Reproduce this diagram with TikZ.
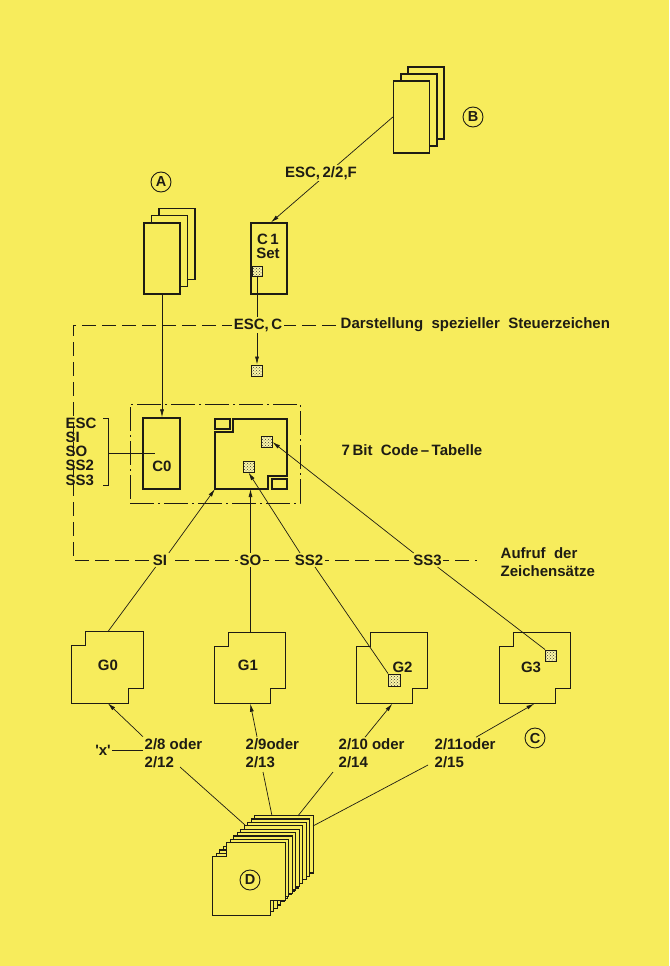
\documentclass[tikz,border=0pt]{standalone}
\usepackage{fontspec}
\setmainfont{Liberation Sans}
\usetikzlibrary{arrows.meta,patterns,calc}
\definecolor{bg}{RGB}{247,236,92}
\definecolor{ink}{RGB}{30,28,20}
\newcommand{\gshape}[1]{%
  \draw[box, fill=bg] ($(#1.north west)+(14,0)$) -- (#1.north east) -- ($(#1.south east)+(0,-15)$)
   -- ($(#1.south east)+(-15,-15)$) -- ($(#1.south east)+(-15,0)$) -- (#1.south west)
   -- ($(#1.north west)+(0,14)$) -- ($(#1.north west)+(14,14)$) -- cycle;}
\begin{document}
\begin{tikzpicture}[x=1pt,y=-1pt,
  every node/.style={text=ink},
  txt/.style={font=\fontsize{15}{16}\selectfont\bfseries, inner sep=1.5pt},
  two/.style={txt, align=left, font=\fontsize{15}{18}\selectfont\bfseries},
  lbl/.style={txt, fill=bg},
  page/.style={draw=ink, line width=1.3pt, fill=bg, inner sep=0pt},
  box/.style={draw=ink, line width=1.3pt},
  ghost/.style={inner sep=0pt, minimum size=71pt},
  hat/.style={draw=ink, line width=0.9pt, preaction={fill=white!45!bg}, pattern=crosshatch dots, pattern color=ink!85, minimum size=11pt, inner sep=0pt},
  conn/.style={draw=ink, line width=0.7pt},
  arr/.style={conn, -{Latex[length=8pt,width=4pt]}},
  dsh/.style={draw=ink, line width=1pt, dash pattern=on 14pt off 6pt},
  dashdot/.style={draw=ink, line width=1pt, dash pattern=on 24pt off 4pt on 2pt off 4pt},
  lett/.style={circle, draw=ink, line width=0.9pt, minimum size=20pt, inner sep=0pt, font=\fontsize{14.5}{16}\selectfont\bfseries}
]
\fill[bg] (0,0) rectangle (669,966);
\useasboundingbox (0,0) rectangle (669,966);

% stack B
\node[page, minimum width=36pt, minimum height=72pt] (B3) at (426,103) {};
\node[page, minimum width=36pt, minimum height=72pt] (B2) at (419,110) {};
\node[page, minimum width=36pt, minimum height=72pt] (B1) at (411.5,117) {};
\node[lett] (Bl) at (473,117) {B};

% stack A
\node[page, minimum width=36pt, minimum height=71pt] (A3) at (177,244) {};
\node[page, minimum width=36pt, minimum height=71pt] (A2) at (169.5,251) {};
\node[page, minimum width=36pt, minimum height=71pt] (A1) at (162,258.5) {};
\node[lett] (Al) at (161,182) {A};

% C1 set
\node[page, minimum width=36pt, minimum height=71pt] (C1) at (269,258.5) {};
\node[txt, align=center, font=\fontsize{15}{14}\selectfont\bfseries] (c1t) at (268,246) {C\,1\\Set};
\node[hat, minimum size=10pt] (hC1) at (257,271) {};

% arrow B -> C1
\draw[arr] (B1.west) -- ($(C1.north)+(2,0)$);
\node[lbl] (escF) at (321,173) {ESC,\,2/2,F};

% dashed frame lines
\coordinate (dtr) at (336,325);
\coordinate (tl) at (73,325);
\coordinate (bl) at (73,560);
\coordinate (dend) at (477,560);
\draw[dsh] (dtr) -- (tl) -- (bl) -- (dend);

\node[lbl] (escC) at (258,325) {ESC,\,C};
\node[txt, anchor=west] (darst) at (339,325) {Darstellung\ \ spezieller\ \ Steuerzeichen};
\node[hat] (hE) at (257,370.5) {};
\draw[conn] (hC1.south) -- (hC1.south |- escC.north);
\draw[arr] (escC.south -| hE.north) -- (hE.north);

% code table frame
\node[dashdot, minimum width=170pt, minimum height=99pt, inner sep=0pt] (frame) at (215,453.5) {};
\node[page, minimum width=37pt, minimum height=71pt] (C0) at (161.5,453.5) {};
\node[txt] (c0t) at (162,466) {C0};
\draw[arr] (A1.south) -- (A1.south |- C0.north);

\draw[box, fill=bg] (233,419) -- (287,419) -- (287,476) -- (268,476) -- (268,489) -- (215,489) -- (215,432) -- (233,432) -- cycle;
\node[draw=ink, line width=1.1pt, minimum width=15pt, minimum height=10pt, inner sep=0pt] (tsq1) at (222.5,424) {};
\node[draw=ink, line width=1.1pt, minimum width=15pt, minimum height=10pt, inner sep=0pt] (tsq2) at (279.5,484) {};
\node[hat] (hT1) at (266.5,442) {};
\node[hat] (hT2) at (248.5,466.5) {};
\coordinate (ctBL) at (215,489);
\coordinate (ctB) at (250.5,489);

% control codes
\node[txt, align=left, anchor=west, font=\fontsize{15}{14.3}\selectfont\bfseries] (escl) at (64,451.5) {ESC\\SI\\SO\\SS2\\SS3};
\draw[conn, line width=0.9pt] (103,418) -- (108,418) -- (108,485) -- (103,485);
\coordinate (brk) at (108,453);
\coordinate (c0in) at (155,453);
\draw[conn] (brk) -- (c0in);

\node[txt, anchor=west] (ctab) at (340,450) {7\,Bit\ \ Code\,–\,Tabelle};

% invocation line labels
\node[lbl] (SI) at (160,560) {SI};
\node[lbl] (SO) at (250.5,560) {SO};
\node[lbl] (SS2) at (309,560) {SS2};
\node[lbl] (SS3) at (427.5,560) {SS3};
\node[two, anchor=west] (aufruf) at (499,562) {Aufruf\ \ der\\Zeichensätze};

\draw[arr] (SI.north east) -- (ctBL);
\draw[arr] (SO.north) -- (ctB);
\draw[arr] ($(SS2.north)+(-9,0)$) -- (hT2.south);
\draw[arr] ($(SS3.north west)+(2,0)$) -- (hT1.east);

% G sets
\node[ghost] (G0) at (107.5,667.5) {};
\node[ghost] (G1) at (250,668) {};
\node[ghost] (G2) at (392,668) {};
\node[ghost] (G3) at (535,668) {};
\gshape{G0}
\gshape{G1}
\gshape{G2}
\gshape{G3}
\node[txt] (g0t) at (108,665) {G0};
\node[txt] (g1t) at (248,665) {G1};
\node[txt] (g2t) at (402.5,667) {G2};
\node[txt] (g3t) at (531,667) {G3};
\node[hat, minimum size=12pt] (hG2) at (394.5,680) {};
\node[hat] (hG3) at (551,655.5) {};

\draw[conn] ($(SI.south)!0.5!(SI.south west)$) -- ($(G0.north west)+(36,0)$);
\draw[conn] (SO.south) -- (SO.south |- G1.north);
\draw[conn] ($(SS2.south)+(6,0)$) -- (hG2.north west);
\draw[conn] ($(SS3.south)+(10,0)$) -- (hG3.north west);

% designation labels
\node[two, anchor=west] (l8) at (143,753) {2/8 oder\\2/12};
\node[two, anchor=west] (l9) at (244,753) {2/9oder\\2/13};
\node[two, anchor=west] (l10) at (337,753.5) {2/10 oder\\2/14};
\node[two, anchor=west] (l11) at (433,753.5) {2/11oder\\2/15};
\node[txt] (xq) at (103,750) {\textquotesingle x\textquotesingle};
\draw[conn] (xq.east) -- (xq.east -| l8.west);

\draw[arr] (l8.north west) -- ($(G0.south west)+(36,0)$);
\draw[arr] ($(l9.north west)+(13,0)$) -- ($(G1.south west)+(36,0)$);
\draw[arr] ($(l10.north west)+(28,0)$) -- ($(G2.south west)+(36,0)$);
\draw[arr] ($(l11.north west)+(43,0)$) -- ($(G3.south west)+(35,0)$);
\node[lett] (Cl) at (535,738) {C};

% stack D
\foreach \k in {8,7,...,0} {
  \node[inner sep=0pt, minimum size=72pt] (D\k) at ({249+3.5*\k},{879-3.4*\k}) {};
  \gshape{D\k}
}
\node[lett, fill=bg] (Dl) at (250,880) {D};

\coordinate (s8) at (180,767);
\coordinate (s9) at (263,772);
\coordinate (s10) at (333,772);
\coordinate (s11) at (428,765);
\coordinate (d1) at (245,825);
\coordinate (d2) at (272,815.8);
\coordinate (d3) at (298,815.8);
\coordinate (d4) at (313,826);
\draw[conn] (s8) -- (d1);
\draw[conn] (s9) -- (d2);
\draw[conn] (s10) -- (d3);
\draw[conn] (s11) -- (d4);
\end{tikzpicture}
\end{document}
